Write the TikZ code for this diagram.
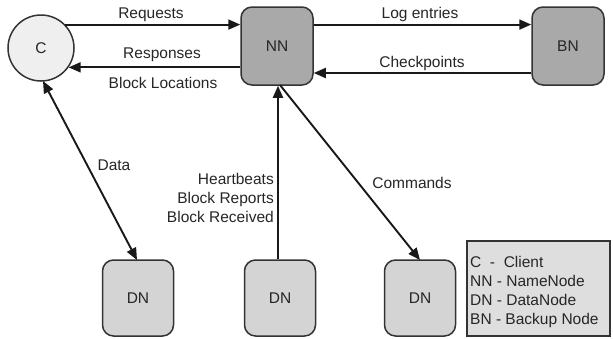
\documentclass[tikz,border=0pt]{standalone}
\usepackage{fontspec}
\setmainfont{Liberation Sans}
\usetikzlibrary{arrows.meta}
\definecolor{cfill}{HTML}{EFEFEF}
\definecolor{nnfill}{HTML}{A9A9A9}
\definecolor{dnfill}{HTML}{D4D4D4}
\definecolor{lgfill}{HTML}{DEDEDE}
\definecolor{edge}{HTML}{333333}
\begin{document}
\begin{tikzpicture}[x=1pt,y=-1pt,
  every node/.style={font=\fontsize{15.5}{19}\selectfont, text=black!85},
  bigbox/.style={draw=edge, line width=1.5pt, rounded corners=11pt, fill=nnfill, minimum width=72pt, minimum height=78pt, inner sep=0pt},
  dnbox/.style={draw=edge, line width=1.5pt, rounded corners=11pt, fill=dnfill, minimum width=71pt, minimum height=76pt, inner sep=0pt},
  conn/.style={line width=1.9pt, draw=black!90},
  tip/.style={-{Triangle[length=12pt,width=10pt]}},
  tips/.style={{Triangle[length=12pt,width=10pt]}-{Triangle[length=12pt,width=10pt]}},
  lab/.style={inner sep=0pt}
]
\useasboundingbox (0,0) rectangle (613,338);
\node[circle, draw=edge, line width=1.5pt, fill=cfill, minimum size=66pt, inner sep=0pt] (c) at (41,48) {C};
\node[bigbox] (nn) at (277,46) {NN};
\node[bigbox] (bn) at (568,46) {BN};
\node[dnbox] (dn1) at (138,298) {DN};
\node[dnbox] (dn2) at (280,298) {DN};
\node[dnbox] (dn3) at (420,298) {DN};
\node[draw=edge, line width=1.5pt, fill=lgfill, minimum width=143pt, minimum height=95pt, inner sep=0pt] (lg) at (538.5,288.5) {};
\node[lab, anchor=base west] (l1) at (470,267) {C\ \ -\ \ Client};
\node[lab, anchor=base west] (l2) at (470,286) {NN - NameNode};
\node[lab, anchor=base west] (l3) at (470,305) {DN - DataNode};
\node[lab, anchor=base west] (l4) at (470,324) {BN - Backup Node};

% horizontal arrows
\draw[conn, tip] (c.44) -- (nn.west |- c.44);
\draw[conn, tip] (nn.west |- c.-35) -- (c.-35);
\draw[conn, tip] (nn.east |- c.44) -- (bn.west |- c.44);
\coordinate (cpy) at (0,73);
\draw[conn, tip] (bn.west |- cpy) -- (nn.east |- cpy);

\node[lab, anchor=base] (treq) at (151,18) {Requests};
\node[lab, anchor=base] (tres) at (162,58) {Responses};
\node[lab, anchor=base] (tbl) at (163,88) {Block Locations};
\node[lab, anchor=base] (tlog) at (420,18) {Log entries};
\node[lab, anchor=base] (tcp) at (422,67) {Checkpoints};

% vertical / diagonal
\coordinate (cb) at (43,81);
\coordinate (d1t) at (137,260);
\draw[conn, tips] (cb) -- (d1t);
\coordinate (hbx) at (278,0);
\draw[conn, tip] (dn2.north -| hbx) -- (nn.south -| hbx);
\coordinate (nnb) at (280,85);
\coordinate (d3t) at (420,260);
\draw[conn, tip] (nnb) -- (d3t);

\node[lab] (tdata) at (114,165) {Data};
\node[lab, anchor=east, align=right] (thb) at (274,198) {Heartbeats\\Block Reports\\Block Received};
\node[lab] (tcmd) at (412,183) {Commands};
\end{tikzpicture}
\end{document}
